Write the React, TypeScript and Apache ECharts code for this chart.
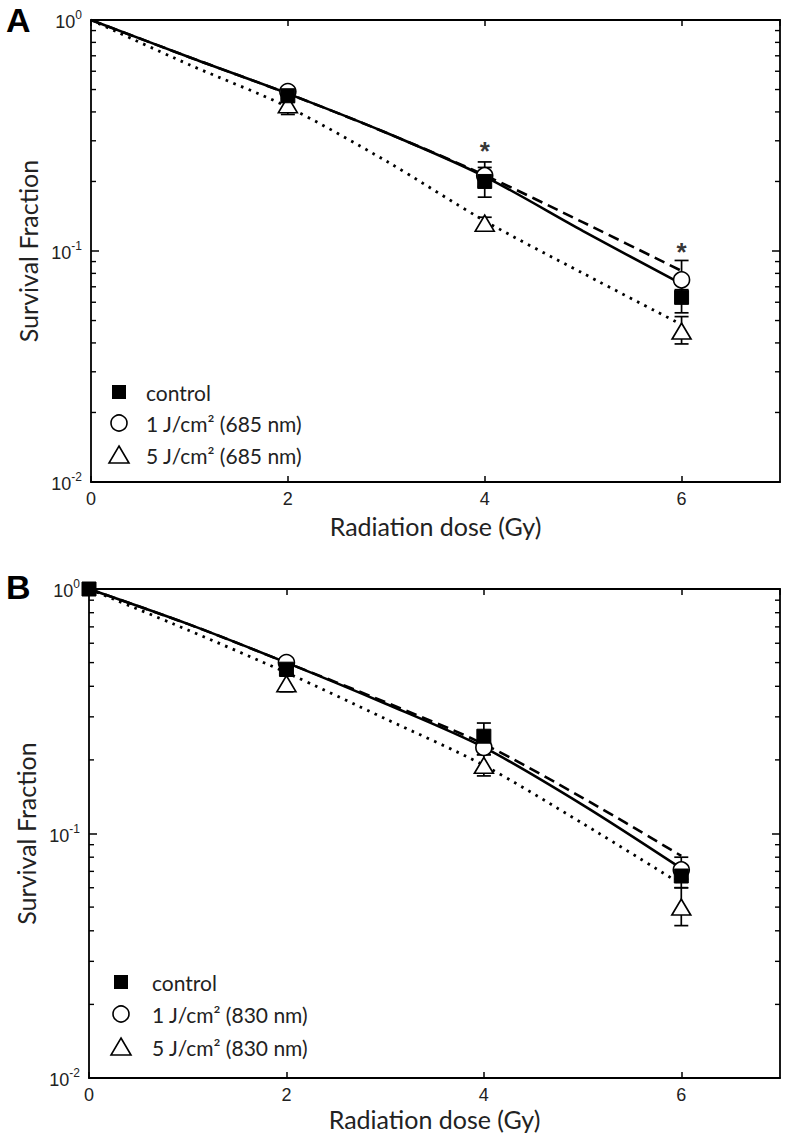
import React, { useEffect, useRef } from "react";
import * as echarts from "echarts";

// ---------- data ----------
const fitDose = [0, 1, 2, 3, 4, 5, 6];

// Panel A (685 nm) fitted curves
const fitA_control = [1, 0.69, 0.48, 0.325, 0.21, 0.122, 0.072];
const fitA_1J = [1, 0.69, 0.48, 0.325, 0.213, 0.133, 0.082];
const fitA_5J = [1, 0.64, 0.42, 0.245, 0.135, 0.08, 0.048];

// Panel A measured points: [dose, mean, low, high]
const ptsA_control = [
  [2, 0.47, 0.44, 0.5],
  [4, 0.2, 0.171, 0.23],
  [6, 0.063, 0.054, 0.072],
];
const ptsA_1J = [
  [2, 0.49, 0.47, 0.51],
  [4, 0.212, 0.19, 0.243],
  [6, 0.075, 0.068, 0.091],
];
const ptsA_5J = [
  [2, 0.43, 0.39, 0.46],
  [4, 0.132, 0.125, 0.14],
  [6, 0.045, 0.0396, 0.052],
];
const starsA = [
  [4, 0.27],
  [6, 0.099],
];

// Panel B (830 nm) fitted curves
const fitB_control = [1, 0.72, 0.5, 0.34, 0.225, 0.131, 0.072];
const fitB_1J = [1, 0.72, 0.5, 0.345, 0.232, 0.14, 0.081];
const fitB_5J = [1, 0.68, 0.455, 0.295, 0.19, 0.11, 0.062];

const ptsB_control = [
  [0, 1, 1, 1],
  [2, 0.47, 0.45, 0.5],
  [4, 0.25, 0.22, 0.283],
  [6, 0.067, 0.06, 0.074],
];
const ptsB_1J = [
  [2, 0.5, 0.48, 0.52],
  [4, 0.225, 0.21, 0.24],
  [6, 0.071, 0.065, 0.08],
];
const ptsB_5J = [
  [2, 0.41, 0.38, 0.44],
  [4, 0.19, 0.172, 0.21],
  [6, 0.05, 0.042, 0.06],
];

const legendA = ["control", "1 J/cm\u00b2 (685 nm)", "5 J/cm\u00b2 (685 nm)"];
const legendB = ["control", "1 J/cm\u00b2 (830 nm)", "5 J/cm\u00b2 (830 nm)"];

const minorTickValues = [
  0.02, 0.03, 0.04, 0.05, 0.06, 0.07, 0.08, 0.09, 0.2, 0.3, 0.4, 0.5, 0.6, 0.7, 0.8, 0.9,
];

const X_MIN = 0;
const X_MAX = 7;
const Y_MIN = 0.01;
const Y_MAX = 1;

// ---------- styles ----------
const TICK_FONT = "'Liberation Sans', Arial, sans-serif";
const TEXT_FONT = "Lato, 'Open Sans', sans-serif";

const grids = [
  { left: 91, top: 20, width: 689, height: 462 },
  { left: 89, top: 589, width: 691, height: 489 },
];

const markerStyles = [
  { symbol: "rect", symbolSize: 14, z: 7, itemStyle: { color: "#000", borderColor: "#000", borderWidth: 1, opacity: 1 } },
  { symbol: "circle", symbolSize: 16, z: 6, itemStyle: { color: "#fff", borderColor: "#000", borderWidth: 1.6, opacity: 1 } },
  { symbol: "triangle", symbolSize: [19, 16], z: 5, itemStyle: { color: "#fff", borderColor: "#000", borderWidth: 1.6, opacity: 1 } },
];
const lineTypes: any[] = ["solid", [11, 6], [2.6, 5.6]];

function buildPanel(p: number, fits: number[][], pts: number[][][], names: string[]) {
  const series: any[] = [];
  fits.forEach((f, i) => {
    series.push({
      type: "line",
      name: names[i] + " fit",
      xAxisIndex: p,
      yAxisIndex: p,
      data: fitDose.map((d, k) => [d, f[k]]),
      showSymbol: false,
      smooth: 0.3,
      z: 2,
      lineStyle: { color: "#000", width: i === 2 ? 2.8 : 2.6, type: lineTypes[i] },
    });
  });
  pts.forEach((arr, i) => {
    series.push({
      type: "custom",
      name: names[i] + " err",
      xAxisIndex: p,
      yAxisIndex: p,
      data: arr.map((r) => [r[0], r[2], r[3]]),
      encode: { x: 0, y: [1, 2] },
      z: 3,
      renderItem: (params: any, api: any) => {
        const x = api.value(0);
        const lo = api.coord([x, api.value(1)]);
        const hi = api.coord([x, api.value(2)]);
        const w = 7;
        const st = { stroke: "#000", lineWidth: 1.7 };
        return {
          type: "group",
          children: [
            { type: "line", shape: { x1: lo[0], y1: lo[1], x2: hi[0], y2: hi[1] }, style: st },
            { type: "line", shape: { x1: lo[0] - w, y1: lo[1], x2: lo[0] + w, y2: lo[1] }, style: st },
            { type: "line", shape: { x1: hi[0] - w, y1: hi[1], x2: hi[0] + w, y2: hi[1] }, style: st },
          ],
        };
      },
    });
  });
  pts.forEach((arr, i) => {
    series.push({
      type: "scatter",
      name: names[i],
      xAxisIndex: p,
      yAxisIndex: p,
      data: arr.map((r) => [r[0], r[1]]),
      emphasis: { disabled: true },
      ...markerStyles[i],
    });
  });
  // minor log ticks on left and right frame
  series.push({
    type: "custom",
    name: "minor ticks " + p,
    xAxisIndex: p,
    yAxisIndex: p,
    data: minorTickValues.map((v) => [X_MIN, v]),
    encode: { x: 0, y: 1 },
    z: 1,
    silent: true,
    renderItem: (params: any, api: any) => {
      const v = api.value(1);
      const l = api.coord([X_MIN, v]);
      const r = api.coord([X_MAX, v]);
      const st = { stroke: "#000", lineWidth: 1.4 };
      return {
        type: "group",
        children: [
          { type: "line", shape: { x1: l[0], y1: l[1], x2: l[0] + 5, y2: l[1] }, style: st },
          { type: "line", shape: { x1: r[0] - 5, y1: r[1], x2: r[0], y2: r[1] }, style: st },
        ],
      };
    },
  });
  return series;
}

const axisLineStyle = { show: true, onZero: false, lineStyle: { color: "#000", width: 1.8 } };

function makeXAxis(p: number, nameGap: number) {
  return {
    type: "value",
    gridIndex: p,
    min: X_MIN,
    max: X_MAX,
    interval: 2,
    position: "bottom",
    name: "Radiation dose (Gy)",
    nameLocation: "middle",
    nameGap,
    nameTextStyle: { fontFamily: TEXT_FONT, fontSize: 25, color: "#222" },
    axisLine: axisLineStyle,
    axisTick: { show: true, inside: true, length: 6, lineStyle: { color: "#000", width: 1.5 } },
    axisLabel: {
      show: true,
      showMaxLabel: false,
      margin: 8,
      fontFamily: TICK_FONT,
      fontSize: 18,
      color: "#222",
    },
    splitLine: { show: false },
  };
}

function makeTopAxis(p: number) {
  return {
    type: "value",
    gridIndex: p,
    min: X_MIN,
    max: X_MAX,
    interval: 2,
    position: "top",
    axisLine: axisLineStyle,
    axisTick: { show: true, inside: true, length: 6, lineStyle: { color: "#000", width: 1.5 } },
    axisLabel: { show: false },
    splitLine: { show: false },
  };
}

function makeYAxis(p: number) {
  return {
    type: "log",
    logBase: 10,
    gridIndex: p,
    min: Y_MIN,
    max: Y_MAX,
    position: "left",
    name: "Survival Fraction",
    nameLocation: "middle",
    nameGap: 50,
    nameTextStyle: { fontFamily: TEXT_FONT, fontSize: 25, color: "#222" },
    axisLine: axisLineStyle,
    axisTick: { show: true, inside: true, length: 8, lineStyle: { color: "#000", width: 1.5 } },
    axisLabel: {
      show: true,
      margin: 9,
      formatter: (v: number) => "{b|10}{s|" + Math.round(Math.log10(v)) + "}",
      rich: {
        b: { fontFamily: TICK_FONT, fontSize: 18, color: "#222", verticalAlign: "bottom", lineHeight: 22 },
        s: { fontFamily: TICK_FONT, fontSize: 12, color: "#222", verticalAlign: "top", lineHeight: 12 },
      },
    },
    splitLine: { show: false },
  };
}

function makeRightAxis(p: number) {
  return {
    type: "log",
    logBase: 10,
    gridIndex: p,
    min: Y_MIN,
    max: Y_MAX,
    position: "right",
    axisLine: axisLineStyle,
    axisTick: { show: true, inside: true, length: 8, lineStyle: { color: "#000", width: 1.5 } },
    axisLabel: { show: false },
    splitLine: { show: false },
  };
}

function legendGraphic(x: number, ys: number[], textX: number, labels: string[]) {
  const els: any[] = [];
  els.push({ type: "rect", shape: { x: x - 7, y: ys[0] - 7, width: 14, height: 14 }, style: { fill: "#000" } });
  els.push({ type: "circle", shape: { cx: x, cy: ys[1], r: 8 }, style: { fill: "#fff", stroke: "#000", lineWidth: 1.6 } });
  els.push({
    type: "polygon",
    shape: { points: [[x, ys[2] - 9], [x + 10, ys[2] + 8], [x - 10, ys[2] + 8]] },
    style: { fill: "#fff", stroke: "#000", lineWidth: 1.6 },
  });
  labels.forEach((t, i) => {
    els.push({
      type: "text",
      x: textX,
      y: ys[i],
      style: { text: t, fontFamily: TEXT_FONT, fontSize: 21, fill: "#222", verticalAlign: "middle", align: "left" },
    });
  });
  return els;
}

export default function App() {
  const ref = useRef<HTMLDivElement>(null);
  useEffect(() => {
    if (!ref.current) return;
    const chart = echarts.init(ref.current, undefined, { renderer: "svg" });
    const seriesA = buildPanel(0, [fitA_control, fitA_1J, fitA_5J], [ptsA_control, ptsA_1J, ptsA_5J], legendA);
    const seriesB = buildPanel(1, [fitB_control, fitB_1J, fitB_5J], [ptsB_control, ptsB_1J, ptsB_5J], legendB);
    const stars = {
      type: "scatter",
      name: "significance",
      xAxisIndex: 0,
      yAxisIndex: 0,
      data: starsA,
      symbolSize: 1,
      itemStyle: { color: "rgba(0,0,0,0)" },
      z: 10,
      label: {
        show: true,
        position: "inside",
        formatter: "*",
        fontFamily: TICK_FONT,
        fontSize: 26,
        fontWeight: "bold",
        color: "#000",
      },
    };
    chart.setOption({
      animation: false,
      backgroundColor: "#fff",
      grid: grids,
      xAxis: [makeXAxis(0, 31), makeXAxis(1, 28), makeTopAxis(0), makeTopAxis(1)],
      yAxis: [makeYAxis(0), makeYAxis(1), makeRightAxis(0), makeRightAxis(1)],
      series: [...seriesA, ...seriesB, stars],
      graphic: [
        {
          type: "text",
          x: 6,
          y: 20,
          style: { text: "A", fontFamily: TICK_FONT, fontSize: 34, fontWeight: "bold", fill: "#000", verticalAlign: "middle" },
        },
        {
          type: "text",
          x: 6,
          y: 587,
          style: { text: "B", fontFamily: TICK_FONT, fontSize: 34, fontWeight: "bold", fill: "#000", verticalAlign: "middle" },
        },
        ...legendGraphic(119, [392, 423, 455], 146, legendA),
        ...legendGraphic(121, [982, 1014, 1047], 152, legendB),
      ],
    });
    return () => chart.dispose();
  }, []);
  return <div ref={ref} style={{ position: "absolute", left: 0, top: 0, width: 792, height: 1138 }} />;
}
